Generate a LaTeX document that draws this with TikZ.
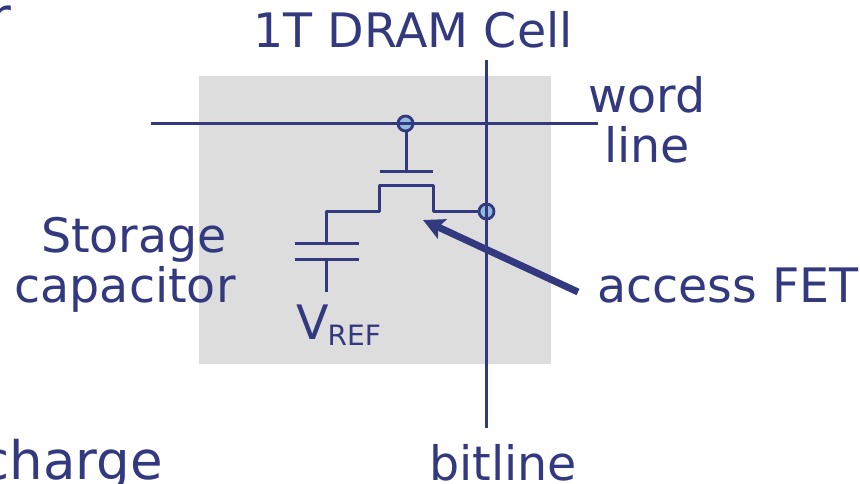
\documentclass[tikz,border=0pt]{standalone}
\usepackage{fontspec}
\setmainfont{DejaVu Sans}
\usetikzlibrary{arrows.meta}
\definecolor{ink}{RGB}{51,57,127}
\definecolor{cellbg}{RGB}{221,221,221}
\definecolor{dotfill}{RGB}{145,185,220}
\tikzset{
  lbl/.style={text=ink,font=\fontsize{47.5}{50}\selectfont,inner sep=0pt,anchor=base},
  biglbl/.style={lbl,font=\fontsize{53}{56}\selectfont,anchor=base east},
  wire/.style={draw=ink,line width=2.8pt},
  junction/.style={circle,draw=ink,line width=2.8pt,fill=dotfill,minimum size=15pt,inner sep=0pt},
  fatarrow/.style={draw=ink,line width=7pt,-{Stealth[length=21pt,width=21pt,inset=4pt]}}
}
\begin{document}
\begin{tikzpicture}[x=1pt,y=-1pt]
\useasboundingbox (0,0) rectangle (860,483);
\clip (0,0) rectangle (860,483);
\fill[cellbg] (199,76) rectangle (551,364);
\coordinate (wl0) at (151,123.5);
\coordinate (wl1) at (598,123.5);
\coordinate (bl0) at (486.5,60);
\coordinate (bl1) at (486.5,428);
\node[junction] (gate) at (405.5,123.5) {};
\node[junction] (drain) at (486.5,211.5) {};
\draw[wire] (wl0) -- (wl1);
\draw[wire] (bl0) -- (bl1);
\coordinate (gbar) at (406.5,171.5);
\coordinate (gl) at (380,171.5);
\coordinate (gr) at (433,171.5);
\coordinate (capt) at (326.5,243.5);
\coordinate (capb) at (326.5,259.5);
\coordinate (capfoot) at (326.5,291.5);
\draw[wire] (gate.south -| gbar) -- (gbar);
\draw[wire] (gl) -- (gr);
\draw[wire,line join=round] (drain) -- (433.5,211.5) -- (433.5,185.5) -- (379.5,185.5) -- (379.5,211.5) -- (326.5,211.5) -- (capt);
\draw[wire] (295,243.5) -- (359,243.5);
\draw[wire] (295,259.5) -- (359,259.5);
\draw[wire] (capb) -- (capfoot);
\coordinate (atail) at (578,292);
\coordinate (ahead) at (423,220);
\draw[fatarrow] (atail) -- (ahead);
\node[lbl] (title) at (413,47) {1T DRAM Cell};
\node[lbl] (word) at (647,112) {word};
\node[lbl] (line) at (647,162) {line};
\node[lbl] (stor) at (134,252) {Storage};
\node[lbl] (capn) at (125,302) {capacitor};
\node[lbl] (fet) at (728,302) {access FET};
\node[lbl] (bit) at (503,480) {bitline};
\node[biglbl] (chg) at (163,479) {charge};
\node[biglbl] (frag) at (11,35) {r};
\node[lbl,anchor=base west] (vref) at (296,339) {V\kern-1pt{\fontsize{28}{30}\selectfont\raisebox{-6pt}{REF}}};
\end{tikzpicture}
\end{document}
